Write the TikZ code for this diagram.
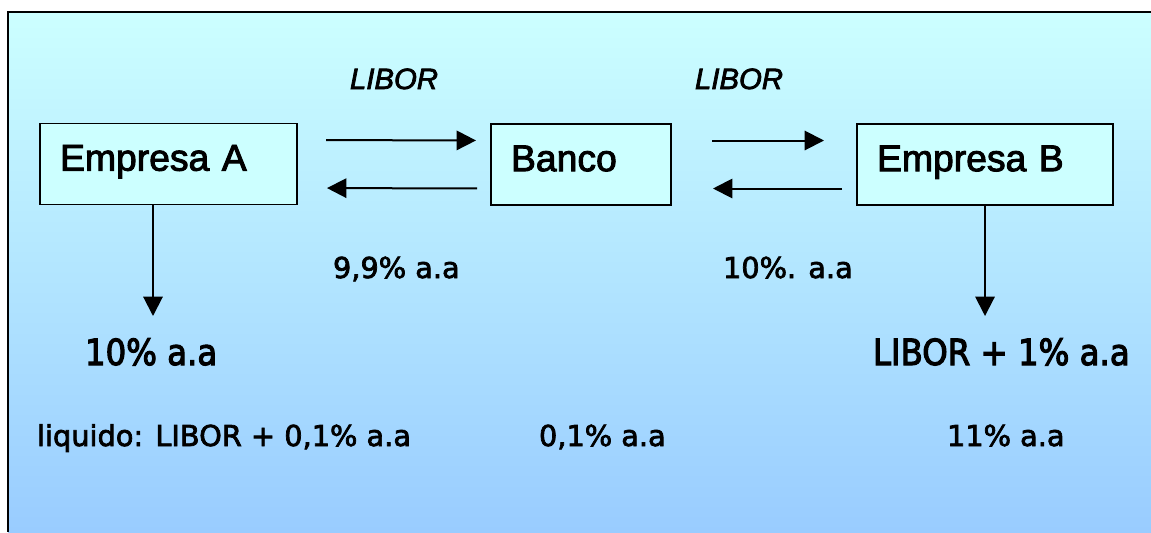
\documentclass[tikz,border=0pt]{standalone}
\usepackage{fontspec}
\setmainfont{Liberation Sans}[FakeBold=2.5]
\newfontfamily\dejavu{DejaVu Sans}[FakeBold=2.5]
\newfontfamily\dejavucond{DejaVu Sans}[FakeStretch=0.9, FakeBold=3]
\usetikzlibrary{arrows.meta}

\definecolor{cccffff}{RGB}{204,255,255}
\definecolor{c99ccff}{RGB}{153,204,255}

\tikzset{
  box/.style={draw=black, fill=cccffff, line width=1.1pt, inner xsep=15pt,
    minimum height=60.5pt, text height=20pt, text depth=10pt, align=left,
    font=\fontsize{28}{30}\selectfont},
  arr/.style={draw=black, line width=1.5pt, -{Triangle[length=14.5pt,width=14.5pt]}},
  bigtext/.style={font=\dejavucond\fontsize{27}{30}\selectfont},
  smalltext/.style={font=\dejavu\fontsize{21.6}{24}\selectfont},
  ratetext/.style={font=\itshape\fontsize{22}{24}\selectfont}
}

\begin{document}
\begin{tikzpicture}[y=0.75pt, x=0.75pt, yscale=-1, inner sep=0pt, outer sep=0pt]

  \useasboundingbox (0,0) rectangle (1151,532);
  \path[top color=cccffff, bottom color=c99ccff] (8,12) rectangle (1151,532);
  \path[draw=black, line width=1.8pt] (1151,12) -- (8,12) -- (8,532);

  \path (168.5,164) node[box, text width=162.75pt] (empresaA) {Empresa A};
  \path (581,164.5) node[box, text width=105pt] (banco) {Banco};
  \path (985,164.5) node[box, text width=162pt] (empresaB) {Empresa B};

  \path (350,89) node[ratetext, anchor=base west] (liborA) {LIBOR};
  \path (695,89) node[ratetext, anchor=base west] (liborB) {LIBOR};

  \path[arr, shorten <=21.75pt, shorten >=11.25pt] ([yshift=-18pt]empresaA.east)
    -- ([yshift=-18pt]banco.west);
  \path[arr, shorten <=10.5pt, shorten >=22.5pt] ([yshift=18pt]banco.west)
    -- ([yshift=18pt]empresaA.east);
  \path[arr, shorten <=30.75pt, shorten >=24.75pt] ([yshift=-18pt]banco.east)
    -- ([yshift=-18pt]empresaB.west);
  \path[arr, shorten <=11.25pt, shorten >=31.5pt] ([yshift=18pt]empresaB.west)
    -- ([yshift=18pt]banco.east);

  \coordinate (tipA) at (153,316);
  \coordinate (tipB) at (985,316);
  \path[arr] (empresaA.south -| tipA) -- (tipA);
  \path[arr] (empresaB.south -| tipB) -- (tipB);

  \path (333,278) node[smalltext, anchor=base west] (pagoA) {9,9\% a.a};
  \path (723,278) node[smalltext, anchor=base west] (pagoB) {10\%. a.a};

  \path (85,365) node[bigtext, anchor=base west] (taxaA) {10\% a.a};
  \path (873,365) node[bigtext, anchor=base west] (taxaB) {LIBOR + 1\% a.a};

  \path (37,446) node[smalltext, anchor=base west] (liquidoA)
    {liquido: LIBOR + 0,1\% a.a};
  \path (539,446) node[smalltext, anchor=base west] (liquidoBanco) {0,1\% a.a};
  \path (947,446) node[smalltext, anchor=base west] (liquidoB) {11\% a.a};

\end{tikzpicture}
\end{document}
